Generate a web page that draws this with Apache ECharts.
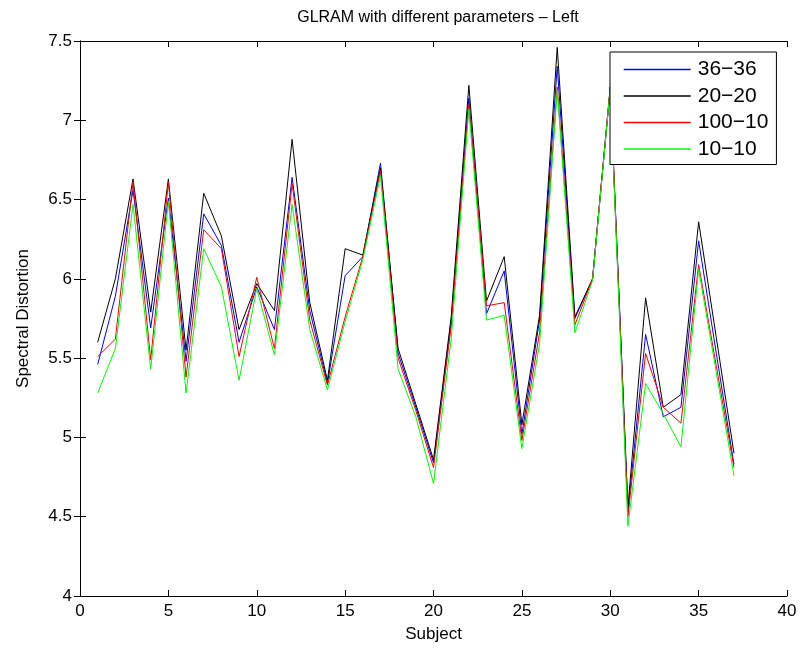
<!DOCTYPE html>
<html>
<head>
<meta charset="utf-8">
<title>GLRAM with different parameters - Left</title>
<script src="https://cdn.jsdelivr.net/npm/echarts@6/dist/echarts.min.js"></script>
<style>
  html, body { margin: 0; padding: 0; background: #fff; }
  #main { width: 800px; height: 657px; }
</style>
</head>
<body>
<div id="main"></div>
<script>
// subjects 1..37
var subjects = [];
for (var i = 1; i <= 37; i++) subjects.push(i);

var names = ['36\u221236', '20\u221220', '100\u221210', '10\u221210'];
var colors = ['#0000ff', '#000000', '#ff0000', '#00ff00'];

// values
var p36_36 = [5.46, 5.89, 6.56, 5.69, 6.51, 5.48, 6.41, 6.21, 5.60, 5.95,
  5.68, 6.64, 5.80, 5.34, 6.02, 6.14, 6.73, 5.53, 5.19, 4.84,
  5.73, 7.14, 5.78, 6.05, 5.02, 5.74, 7.34, 5.75, 6.00, 7.20,
  4.53, 5.65, 5.13, 5.19, 6.24, 5.53, 4.83];
var p20_20 = [5.60, 6.00, 6.63, 5.79, 6.63, 5.55, 6.54, 6.27, 5.68, 5.97,
  5.80, 6.88, 5.85, 5.36, 6.19, 6.15, 6.70, 5.56, 5.21, 4.86,
  5.76, 7.22, 5.86, 6.14, 5.08, 5.77, 7.46, 5.76, 6.00, 7.21,
  4.56, 5.88, 5.19, 5.27, 6.36, 5.63, 4.90];
var p100_10 = [5.51, 5.62, 6.61, 5.49, 6.61, 5.38, 6.31, 6.19, 5.51, 6.01,
  5.56, 6.60, 5.74, 5.33, 5.76, 6.14, 6.68, 5.50, 5.17, 4.81,
  5.70, 7.10, 5.83, 5.85, 4.98, 5.66, 7.21, 5.71, 6.00, 7.21,
  4.50, 5.53, 5.19, 5.09, 6.09, 5.45, 4.81];
var p10_10 = [5.28, 5.56, 6.47, 5.43, 6.49, 5.28, 6.19, 5.95, 5.36, 5.94,
  5.52, 6.47, 5.68, 5.30, 5.73, 6.12, 6.65, 5.43, 5.13, 4.71,
  5.62, 7.07, 5.74, 5.77, 4.93, 5.59, 7.19, 5.66, 5.99, 7.20,
  4.44, 5.34, 5.15, 4.94, 6.06, 5.41, 4.76];

var allData = [p36_36, p20_20, p100_10, p10_10];

function pairs(arr) {
  return subjects.map(function (s, k) { return [s, arr[k]]; });
}

var font = 'Liberation Sans, Arial, Helvetica, sans-serif';

var series = allData.map(function (arr, k) {
  return {
    name: names[k],
    type: 'line',
    data: pairs(arr),
    symbol: 'none',
    lineStyle: { color: colors[k], width: 1 },
    itemStyle: { color: colors[k] },
    animation: false
  };
});

var option = {
  backgroundColor: '#fff',
  title: {
    text: 'GLRAM with different parameters \u2013 Left',
    left: 433,
    top: 5,
    textAlign: 'center',
    textStyle: { fontFamily: font, fontSize: 16, fontWeight: 'normal', color: '#000' }
  },
  legend: {
    orient: 'vertical',
    left: 610,
    top: 52,
    width: 164,
    data: names,
    padding: [7, 8, 5, 13],
    itemWidth: 67,
    itemHeight: 22,
    itemGap: 5.5,
    itemStyle: { opacity: 0 },
    lineStyle: { width: 1.5 },
    borderColor: '#000',
    borderWidth: 1,
    backgroundColor: '#fff',
    textStyle: { fontFamily: font, fontSize: 21, color: '#000', padding: [0, 0, 0, 2] }
  },
  grid: { left: 80, right: 13, top: 41, bottom: 61 },
  xAxis: [{
    type: 'value', min: 0, max: 40, interval: 5,
    name: 'Subject', nameLocation: 'middle', nameGap: 30,
    nameTextStyle: { fontFamily: font, fontSize: 17, color: '#000' },
    axisLine: { lineStyle: { color: '#000' } },
    axisTick: { inside: true, length: 6, lineStyle: { color: '#000' } },
    axisLabel: { fontFamily: font, fontSize: 17, color: '#000', margin: 7 },
    splitLine: { show: false }
  }, {
    type: 'value', min: 0, max: 40, interval: 5, position: 'top',
    axisLine: { lineStyle: { color: '#000' } },
    axisTick: { inside: true, length: 6, lineStyle: { color: '#000' } },
    axisLabel: { show: false },
    splitLine: { show: false }
  }],
  yAxis: [{
    type: 'value', min: 4, max: 7.5, interval: 0.5,
    name: 'Spectral Distortion', nameLocation: 'middle', nameGap: 48,
    nameTextStyle: { fontFamily: font, fontSize: 17, color: '#000' },
    axisLine: { show: true, lineStyle: { color: '#000' } },
    axisTick: { show: true, inside: true, length: 6, lineStyle: { color: '#000' } },
    axisLabel: { fontFamily: font, fontSize: 17, color: '#000', margin: 8 },
    splitLine: { show: false }
  }, {
    type: 'value', min: 4, max: 7.5, interval: 0.5, position: 'right',
    axisLine: { show: true, lineStyle: { color: '#000' } },
    axisTick: { show: true, inside: true, length: 6, lineStyle: { color: '#000' } },
    axisLabel: { show: false },
    splitLine: { show: false }
  }],
  series: series
};

var chart = echarts.init(document.getElementById('main'));
chart.setOption(option);
</script>
</body>
</html>
